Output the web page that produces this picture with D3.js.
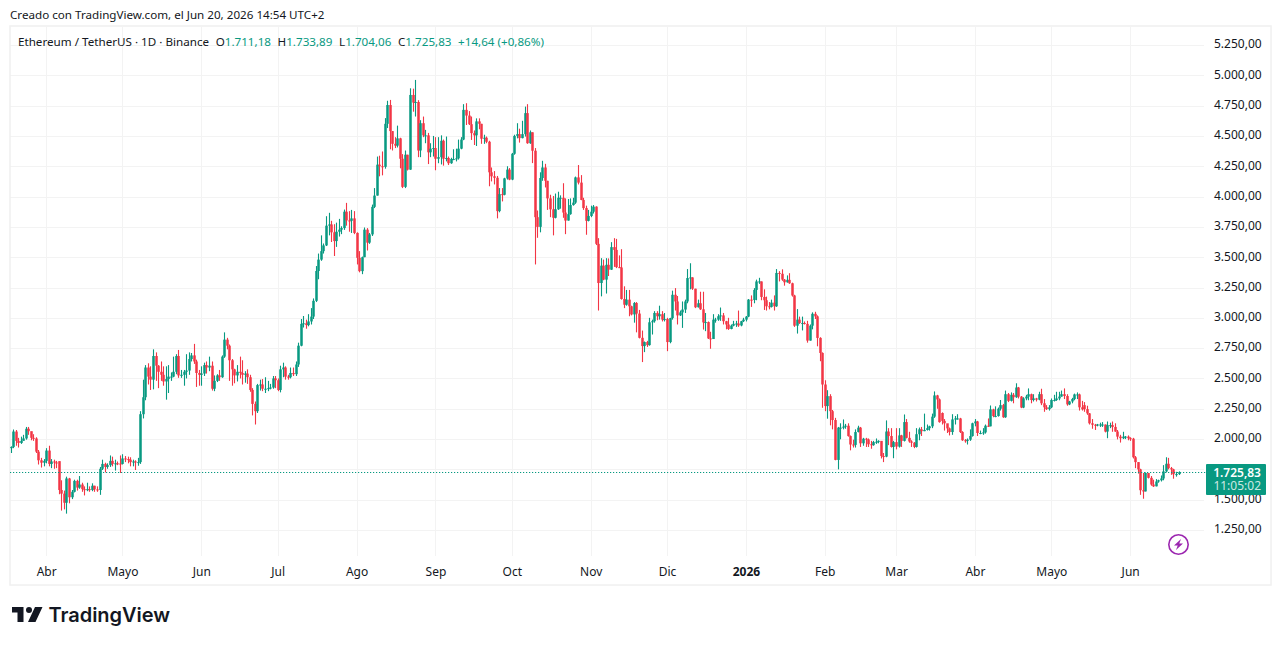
<!DOCTYPE html>
<html><head><meta charset="utf-8">
<script src="https://cdn.jsdelivr.net/npm/d3@7"></script>
<style>html,body{margin:0;padding:0;background:#fff;overflow:hidden}text{font-family:"Noto Sans",sans-serif}</style>
</head><body><svg id="c" width="1281" height="645"></svg>
<script>
const startDate = new Date(Date.UTC(2025,2,18));
const monthLabels = ["Abr","Mayo","Jun","Jul","Ago","Sep","Oct","Nov","Dic","2026","Feb","Mar","Abr","Mayo","Jun"];
const monthStarts = ["2025-04-01","2025-05-01","2025-06-01","2025-07-01","2025-08-01","2025-09-01","2025-10-01","2025-11-01","2025-12-01","2026-01-01","2026-02-01","2026-03-01","2026-04-01","2026-05-01","2026-06-01"];
const priceTicks = [1250,1500,1750,2000,2250,2500,2750,3000,3250,3500,3750,4000,4250,4500,4750,5000,5250];
const priceLabelTicks = priceTicks.filter(d=>d!==1750);
const closes = [
1935,2062,1985,1968,1985,2005,2085,2065,2010,2005,
1896,1825,1805,1820,1905,1795,1815,1807,1800,1580,
1550,1475,1675,1520,1565,1655,1600,1625,1587,1585,
1587,1580,1615,1585,1580,1755,1795,1770,1785,1820,
1795,1800,1798,1795,1840,1835,1830,1810,1815,1810,
1810,2205,2345,2590,2515,2490,2685,2605,2555,2530,
2475,2495,2515,2515,2555,2685,2525,2530,2555,2565,
2660,2690,2640,2545,2530,2540,2610,2590,2605,2415,
2480,2525,2510,2680,2820,2770,2650,2575,2525,2555,
2545,2530,2540,2510,2405,2290,2230,2445,2450,2415,
2415,2420,2425,2500,2485,2405,2575,2590,2515,2510,
2545,2535,2615,2770,2950,2955,2940,2970,3010,3140,
3386,3480,3550,3597,3760,3770,3705,3633,3710,3727,
3740,3875,3803,3800,3820,3700,3495,3385,3500,3727,
3620,3688,3915,4008,4263,4250,4245,4600,4755,4540,
4435,4420,4480,4312,4080,4345,4222,4838,4775,4780,
4380,4605,4505,4505,4365,4395,4400,4312,4325,4460,
4312,4318,4275,4310,4310,4315,4395,4470,4715,4668,
4597,4523,4505,4620,4600,4477,4485,4452,4200,4167,
4155,3880,4020,4015,4150,4222,4140,4353,4500,4515,
4482,4515,4688,4440,4530,4378,3830,3750,4153,4240,
4130,3985,3895,3825,3895,3990,3990,3868,3802,3855,
3930,3950,4158,4115,3972,3905,3800,3840,3875,3917,
3610,3287,3430,3315,3437,3397,3583,3560,3418,3415,
3155,3108,3150,3095,3028,3122,3035,2835,2767,2800,
2775,2963,2972,3040,3013,3030,2985,2990,2800,2998,
3190,3135,3020,3045,3068,3135,3328,3333,3240,3087,
3120,3070,2962,2965,2830,2825,2985,2985,3013,3020,
2972,2945,2908,2935,2950,2953,2937,2972,2985,3010,
3150,3147,3230,3300,3300,3172,3145,3095,3090,3125,
3095,3370,3363,3315,3293,3313,3285,3184,2935,2985,
2957,2957,2950,2812,2935,3033,3012,2834,2710,2450,
2272,2354,2230,2157,1828,2094,2094,2102,2110,2025,
1955,1952,2058,2094,1965,2003,1997,1957,1950,1975,
1978,1985,1860,1855,2062,2025,1935,1975,1938,2030,
1985,2140,2010,1980,1970,1935,2040,2080,2065,2075,
2090,2105,2185,2360,2327,2140,2150,2130,2088,2058,
2162,2170,2170,2058,1990,1985,1995,2025,2130,2145,
2050,2050,2055,2110,2105,2245,2190,2190,2250,2280,
2180,2370,2315,2365,2345,2425,2350,2260,2335,2350,
2370,2322,2335,2325,2370,2295,2262,2247,2262,2322,
2322,2335,2350,2370,2355,2286,2310,2330,2368,2368,
2262,2245,2247,2212,2130,2118,2113,2120,2120,2120,
2062,2115,2115,2100,2062,2020,2007,2020,2020,2007,
2003,1850,1810,1750,1578,1568,1720,1680,1625,1610,
1650,1660,1675,1733,1796,1760,1750,1710,1711.18,1725.83];
const opens = [
1925,1935,2062,1985,1968,1985,2005,2085,2065,2010,
2005,1896,1825,1805,1820,1905,1795,1815,1807,1818,
1580,1550,1475,1675,1520,1565,1655,1600,1625,1587,
1585,1587,1580,1615,1585,1580,1755,1795,1770,1785,
1820,1795,1800,1798,1795,1840,1835,1830,1810,1815,
1810,1810,2205,2345,2590,2515,2490,2685,2605,2555,
2530,2475,2495,2515,2515,2555,2685,2525,2530,2555,
2565,2660,2690,2640,2545,2530,2540,2610,2590,2605,
2415,2480,2525,2510,2680,2820,2770,2650,2575,2525,
2555,2545,2530,2540,2510,2405,2290,2230,2445,2450,
2415,2415,2420,2425,2500,2485,2405,2575,2590,2515,
2510,2545,2535,2615,2770,2950,2955,2940,2970,3010,
3140,3386,3480,3550,3597,3760,3770,3705,3633,3710,
3727,3740,3875,3803,3800,3820,3700,3495,3385,3500,
3727,3620,3688,3915,4008,4263,4250,4245,4600,4755,
4540,4435,4420,4480,4312,4080,4345,4222,4838,4775,
4780,4380,4605,4505,4505,4365,4395,4400,4312,4325,
4460,4312,4318,4275,4310,4310,4315,4395,4470,4715,
4668,4597,4523,4505,4620,4600,4477,4485,4452,4200,
4167,4155,3880,4020,4015,4150,4222,4140,4353,4500,
4515,4482,4515,4688,4440,4530,4378,3830,3750,4153,
4240,4130,3985,3895,3825,3895,3990,3990,3868,3802,
3855,3930,3950,4158,4115,3972,3905,3800,3840,3875,
3917,3610,3287,3430,3315,3437,3397,3583,3560,3418,
3415,3155,3108,3150,3095,3028,3122,3035,2835,2767,
2800,2775,2963,2972,3040,3013,3030,2985,2990,2800,
2998,3190,3135,3020,3045,3068,3135,3328,3333,3240,
3087,3120,3070,2962,2965,2830,2825,2985,2985,3013,
3020,2972,2945,2908,2935,2950,2953,2937,2972,2985,
3010,3150,3147,3230,3300,3300,3172,3145,3095,3090,
3125,3095,3370,3363,3315,3293,3313,3285,3184,2935,
2985,2957,2957,2950,2812,2935,3033,3012,2834,2710,
2450,2272,2354,2230,2157,1828,2094,2094,2102,2110,
2025,1955,1952,2058,2094,1965,2003,1997,1957,1950,
1975,1978,1985,1860,1855,2062,2025,1935,1975,1938,
2030,1985,2140,2010,1980,1970,1935,2040,2080,2065,
2075,2090,2105,2185,2360,2327,2215,2150,2130,2088,
2058,2162,2170,2170,2058,1990,1985,1995,2025,2130,
2145,2050,2050,2055,2110,2105,2245,2190,2190,2250,
2280,2180,2370,2315,2365,2345,2425,2350,2260,2335,
2350,2370,2322,2335,2325,2370,2295,2262,2247,2262,
2322,2322,2335,2350,2370,2355,2286,2310,2330,2368,
2368,2262,2280,2247,2212,2130,2118,2113,2120,2120,
2120,2062,2115,2115,2100,2062,2020,2007,2020,2020,
2007,2003,1850,1810,1750,1578,1568,1720,1680,1625,
1610,1650,1660,1675,1733,1796,1760,1750,1710,1711.18];
const highs = [
1940,2079,2075,2010,2020,2035,2100,2100,2060,2040,
2015,1910,1845,1835,1925,1945,1835,1830,1820,1815,
1660,1575,1690,1680,1580,1665,1665,1695,1640,1610,
1640,1610,1635,1615,1610,1770,1830,1805,1800,1865,
1855,1830,1815,1865,1875,1860,1855,1850,1830,1825,
1845,2230,2490,2610,2625,2600,2740,2715,2610,2640,
2600,2600,2610,2550,2680,2700,2735,2570,2570,2700,
2715,2710,2785,2655,2570,2600,2630,2640,2680,2640,
2525,2535,2570,2690,2880,2835,2780,2660,2580,2610,
2680,2650,2560,2575,2530,2420,2310,2455,2490,2495,
2510,2480,2455,2520,2520,2500,2605,2630,2600,2530,
2590,2590,2640,2795,2990,3015,2985,3030,3080,3160,
3427,3530,3680,3613,3838,3866,3800,3772,3785,3816,
3755,3893,3948,3880,3890,3880,3705,3550,3505,3745,
3740,3700,3934,4070,4330,4337,4372,4647,4790,4797,
4540,4490,4585,4485,4350,4380,4345,4893,4890,4962,
4795,4630,4660,4550,4525,4440,4500,4490,4490,4505,
4470,4495,4330,4320,4390,4395,4470,4490,4762,4770,
4705,4660,4545,4645,4645,4600,4510,4495,4460,4240,
4210,4170,4070,4070,4155,4250,4235,4360,4510,4605,
4560,4625,4742,4762,4545,4530,4400,3885,4200,4295,
4270,4130,4015,4005,4025,4040,4010,4110,3985,3980,
3985,3990,4165,4260,4177,3990,3925,3890,3925,3930,
3920,3657,3492,3480,3492,3490,3624,3657,3651,3515,
3566,3260,3230,3230,3100,3130,3130,3065,2895,2805,
2810,3000,2985,3055,3055,3100,3055,3040,3000,3000,
3224,3245,3180,3060,3135,3150,3402,3450,3335,3240,
3150,3215,3215,3040,2970,2885,3030,3000,3030,3085,
3040,2975,3000,2945,2975,2975,3060,2975,3000,3015,
3155,3185,3245,3315,3330,3300,3235,3175,3130,3150,
3185,3402,3385,3400,3320,3350,3368,3290,3190,3072,
3010,3010,2970,2975,2945,3045,3050,3020,2840,2715,
2485,2403,2370,2240,2175,2100,2130,2162,2125,2130,
2030,1995,2080,2110,2100,2010,2010,2005,1985,1985,
2005,1990,1970,1885,2154,2090,2090,1985,2090,2090,
2035,2203,2165,2060,1990,1975,2090,2095,2100,2210,
2120,2110,2210,2393,2365,2335,2220,2165,2120,2095,
2205,2190,2205,2175,2065,2000,2005,2080,2135,2165,
2150,2070,2090,2120,2170,2277,2250,2270,2260,2322,
2290,2400,2380,2385,2380,2460,2430,2355,2345,2365,
2418,2375,2370,2340,2390,2415,2330,2280,2280,2335,
2365,2390,2390,2400,2418,2370,2315,2340,2375,2385,
2375,2315,2305,2275,2215,2165,2125,2125,2135,2140,
2120,2145,2135,2145,2130,2075,2035,2060,2025,2030,
2015,2010,1860,1810,1755,1720,1725,1710,1695,1665,
1670,1665,1700,1785,1850,1845,1770,1755,1730,1733.89];
const lows = [
1885,1925,1945,1930,1960,1990,1995,2035,1990,1985,
1885,1790,1765,1775,1800,1775,1760,1755,1760,1545,
1410,1420,1385,1470,1505,1560,1575,1590,1565,1535,
1570,1565,1570,1565,1565,1540,1745,1725,1755,1770,
1775,1740,1785,1720,1790,1810,1800,1775,1775,1745,
1780,1795,2170,2320,2450,2405,2410,2480,2420,2480,
2440,2325,2380,2480,2510,2535,2505,2505,2440,2500,
2530,2640,2620,2430,2440,2440,2520,2540,2560,2400,
2395,2470,2480,2505,2670,2740,2480,2440,2460,2475,
2500,2450,2465,2455,2390,2195,2120,2215,2400,2395,
2380,2395,2410,2415,2420,2395,2385,2510,2490,2490,
2500,2520,2520,2595,2765,2920,2910,2930,2945,2990,
3130,3318,3470,3530,3592,3680,3625,3510,3585,3670,
3690,3725,3760,3710,3700,3690,3440,3375,3360,3500,
3555,3610,3675,3905,4008,4167,4175,4230,4565,4390,
4380,4400,4405,4233,4070,4070,4215,4220,4700,4660,
4325,4325,4490,4440,4268,4325,4330,4217,4275,4265,
4255,4290,4260,4270,4300,4290,4305,4390,4465,4590,
4590,4467,4425,4417,4555,4435,4435,4440,4085,4125,
4100,3820,3870,3960,4010,4140,4135,4135,4345,4480,
4445,4480,4495,4435,4435,4276,3440,3660,3705,4130,
4075,3890,3830,3680,3820,3890,3900,3825,3690,3802,
3850,3925,3940,4100,3970,3890,3685,3795,3830,3860,
3600,3060,3177,3310,3200,3345,3395,3420,3410,3410,
3150,3080,3100,3013,3020,2960,2880,2830,2635,2717,
2760,2770,2862,2960,2980,2985,2970,2970,2725,2790,
2985,3060,2945,3015,2917,3040,3120,3235,3230,3080,
3085,3065,2903,2890,2825,2745,2825,2960,2975,2975,
2945,2905,2900,2905,2930,2925,2925,2930,2965,2970,
3005,3090,3120,3145,3280,3145,3065,3060,3070,3085,
3060,3090,3300,3305,3265,3290,3280,3175,2925,2870,
2950,2896,2945,2795,2812,2905,2990,2765,2642,2258,
2230,2168,2113,2080,1825,1750,1998,2080,2085,2020,
1907,1930,1930,2055,1935,1945,1935,1935,1920,1945,
1960,1965,1840,1810,1850,1950,1930,1842,1915,1930,
1935,1980,2005,1970,1935,1925,1930,1990,2025,2065,
2070,2070,2090,2175,2250,2135,2120,2070,2050,2030,
2035,2120,2160,2050,1985,1970,1955,1985,2020,2105,
2025,2040,2035,2045,2100,2105,2180,2180,2185,2235,
2175,2175,2305,2310,2295,2340,2335,2255,2255,2320,
2320,2295,2310,2310,2320,2280,2225,2240,2235,2255,
2310,2315,2320,2350,2330,2275,2280,2295,2320,2330,
2235,2235,2225,2200,2120,2085,2075,2105,2100,2100,
2055,2007,2090,2060,2060,1997,1971,2000,2000,1990,
1985,1840,1760,1715,1540,1508,1568,1675,1615,1605,
1610,1640,1650,1660,1725,1750,1705,1673,1690,1704.06];
const lastPrice = 1725.83;
const countdown = "11:05:02";
const titleText = "Ethereum / TetherUS · 1D · Binance";
const ohlcLegend = [["O","1.711,18"],["H","1.733,89"],["L","1.704,06"],["C","1.725,83"]];
const changeText = "+14,64 (+0,86%)";

const UP="#089981", DOWN="#F23645", GRID="#f3f3f3", TXT="#131722";
const svg=d3.select("#c");
const dates=closes.map((_,i)=>d3.utcDay.offset(startDate,i));
const x=d3.scaleUtc().domain([dates[0],dates[dates.length-1]]).range([10.5,1178.5]);
const y=d3.scaleLinear().domain([1250,5250]).range([530,45]);
const es=d3.formatLocale({decimal:",",thousands:".",grouping:[3],currency:["",""]});
const fmt=es.format(",.2f");
const months=monthStarts.map(s=>new Date(s+"T00:00:00Z"));
const frameT=27,plotB=556,plotR=1204,frameR=1271,frameB=585,frameL=10;

// grid
const grid=svg.append("g");
grid.selectAll(".h").data(priceTicks).join("line").attr("x1",frameL).attr("x2",plotR).attr("y1",d=>Math.round(y(d))+.5).attr("y2",d=>Math.round(y(d))+.5).attr("stroke",GRID);
grid.selectAll(".v").data(months).join("line").attr("y1",frameT).attr("y2",plotB).attr("x1",d=>Math.round(x(d))+.5).attr("x2",d=>Math.round(x(d))+.5).attr("stroke",GRID);

// frame
svg.append("rect").attr("x",frameL).attr("y",frameT-1).attr("width",frameR-frameL).attr("height",frameB-frameT+1).attr("fill","none").attr("stroke","#f0f0f0").attr("stroke-width",1.5);

// candles
const g=svg.append("g");
const rows=closes.map((c,i)=>({i,c,o:opens[i],h:highs[i],l:lows[i],d:dates[i]}));
const col=d=>d.c>=d.o?UP:DOWN;
g.selectAll("line").data(rows).join("line")
 .attr("x1",d=>Math.round(x(d.d))+.5).attr("x2",d=>Math.round(x(d.d))+.5)
 .attr("y1",d=>y(d.h)).attr("y2",d=>y(d.l)).attr("stroke",col).attr("stroke-width",1.1);
g.selectAll("rect").data(rows).join("rect")
 .attr("x",d=>Math.round(x(d.d))+.5-1.25).attr("width",2.5)
 .attr("y",d=>Math.min(y(d.o),y(d.c))).attr("height",d=>Math.max(1,Math.abs(y(d.o)-y(d.c))))
 .attr("fill",col);

// last price line
svg.append("line").attr("x1",frameL).attr("x2",1206).attr("y1",Math.round(y(lastPrice))+.5).attr("y2",Math.round(y(lastPrice))+.5)
 .attr("stroke",UP).attr("stroke-width",1.2).attr("stroke-dasharray","1.2 1.8");

// axes
const yAxis=d3.axisRight(y).tickValues(priceLabelTicks).tickSize(0).tickPadding(0).tickFormat(fmt);
const ya=svg.append("g").attr("transform","translate(1214,-1)").call(yAxis);
ya.select(".domain").remove();
ya.selectAll("text").attr("font-size",12).attr("fill",TXT).attr("font-family",'"Noto Sans",sans-serif');
const xAxis=d3.axisBottom(x).tickValues(months).tickSize(0).tickPadding(0).tickFormat((d,i)=>monthLabels[i]);
const xa=svg.append("g").attr("transform","translate(0,567)").call(xAxis);
xa.select(".domain").remove();
xa.selectAll("text").attr("font-size",12).attr("fill",TXT).attr("font-family",'"Noto Sans",sans-serif')
  .attr("font-weight",(d,i)=>monthLabels[i]==="2026"?700:400);

// price label
const ly=Math.round(y(lastPrice));
svg.append("rect").attr("x",1206).attr("y",ly-8).attr("width",60).attr("height",31).attr("fill",UP).attr("rx",1);
svg.append("text").attr("x",1261).attr("y",ly+4.5).attr("text-anchor","end").attr("font-size",12).attr("font-weight",600).attr("fill","#fff").text(fmt(lastPrice));
svg.append("text").attr("x",1261).attr("y",ly+18).attr("text-anchor","end").attr("font-size",12).attr("fill","#fff").attr("fill-opacity",.8).text(countdown);

// header
svg.append("text").attr("x",10).attr("y",19).attr("font-size",11.63).attr("fill",TXT).text("Creado con TradingView.com, el Jun 20, 2026 14:54 UTC+2");
const leg=svg.append("text").attr("x",18).attr("y",46).attr("font-size",11.65).attr("fill",TXT);
leg.append("tspan").text(titleText);
ohlcLegend.forEach(([k,v])=>{leg.append("tspan").attr("dx",6.6).text(k);leg.append("tspan").attr("fill",UP).text(v);});
leg.append("tspan").attr("dx",6.6).attr("fill",UP).text(changeText);

// lightning icon
const bolt=svg.append("g").attr("transform","translate(1178.5,544.5)");
bolt.append("circle").attr("r",9.7).attr("fill","#fff").attr("stroke","#9c27b0").attr("stroke-width",1.6);
bolt.append("path").attr("d","M2.5 -5.5 L-4.5 1 L-0.8 1 L-2.5 5.5 L4.5 -1 L0.8 -1 Z").attr("fill","#9c27b0");

// logo
const logo=svg.append("g");
logo.append("path").attr("d","M12 607H23.5V622H17.5V612.5H12Z M35 607H42.5L35.5 622H28Z").attr("fill","#131722");
logo.append("circle").attr("cx",29).attr("cy",610).attr("r",3).attr("fill","#131722");
logo.append("text").attr("x",48.5).attr("y",621.5).attr("font-size",20).attr("font-weight",600).attr("fill","#131722").style("font-family","Inter,sans-serif").attr("letter-spacing",-.03).text("TradingView");
</script></body></html>
